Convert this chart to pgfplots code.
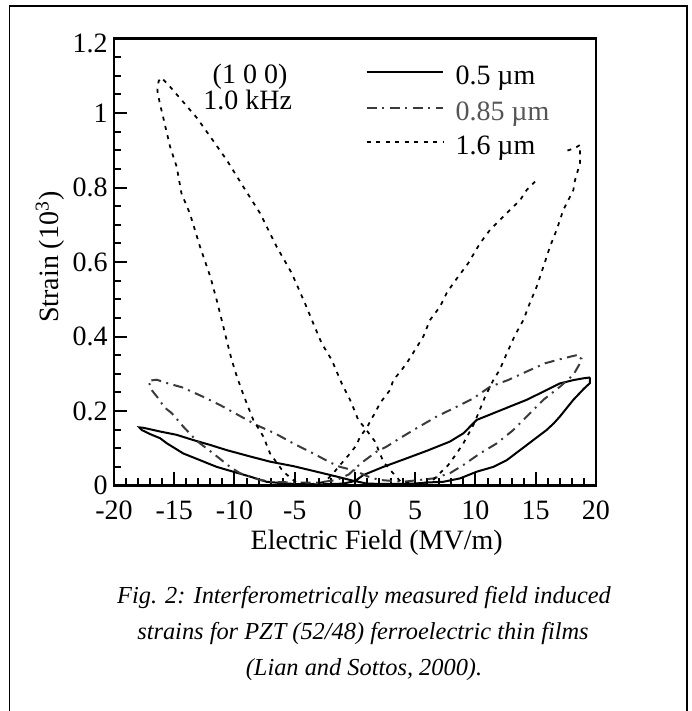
\documentclass[border=0pt]{standalone}
\usepackage{fontspec}
\setmainfont{Liberation Serif}
\usepackage{pgfplots}
\pgfplotsset{compat=1.18}
\definecolor{dashdot}{HTML}{3A3A3A}
\definecolor{labgray}{HTML}{555555}
\begin{document}
\begin{tikzpicture}
% page frame: 1 px of the reference = 0.4pt
\path[use as bounding box] (0,0) rectangle (276.4pt,284.4pt);
\draw[line width=0.8pt] (3.8pt,-5pt) -- (3.8pt,282pt) -- (274.6pt,282pt) -- (274.6pt,-5pt);
\begin{axis}[
  at={(45.6pt,90.2pt)}, anchor=south west,
  scale only axis, width=192.8pt, height=178.8pt,
  xmin=-20, xmax=20, ymin=0, ymax=1.2,
  xtick={-20,-15,-10,-5,0,5,10,15,20},
  ytick={0,0.2,0.4,0.6,0.8,1,1.2},
  yticklabels={0,0.2,0.4,0.6,0.8,1,},
  extra y ticks={1.2},
  extra y tick style={yticklabel style={yshift=-2pt}},
  minor x tick num=4, minor y tick num=3,
  tick align=inside, tick pos=left,
  major tick length=5.4pt, minor tick length=3pt,
  tick style={line width=0.8pt, black},
  axis line style={line width=0.9pt},
  font=\fontsize{11.2}{13.4}\selectfont,
  /pgf/number format/assume math mode=true,
  xticklabel style={anchor=base, yshift=-13.6pt, inner sep=1pt},
  yticklabel style={inner xsep=2.4pt, inner ysep=1pt},
  clip=false,
]
% 0.5 um
\addplot[black, line width=0.8pt] coordinates {
(19.5,0.29) (19.0,0.288) (18.12,0.283) (17.0,0.274) (15.63,0.252) (14.25,0.23) (12.86,0.212)
(11.48,0.194) (10.1,0.176) (8.99,0.14) (7.88,0.118) (5.95,0.093) (4.29,0.073) (2.35,0.05)
(0.69,0.028) (0,0.012) (-1,0.005) (-3,0.003) (-5,0.004) (-5.95,0.006)
(-7.33,0.01) (-8.71,0.024) (-10.1,0.037) (-11.48,0.05) (-12.86,0.068) (-14.25,0.086)
(-15.6,0.113) (-16.18,0.127) (-17.0,0.138) (-17.7,0.149) (-17.9,0.156)
(-17.57,0.155) (-16.18,0.145) (-14.8,0.136) (-13.42,0.122) (-12.03,0.109) (-10.65,0.095)
(-8.71,0.078) (-7.05,0.064) (-5.12,0.052) (-3.18,0.037) (-1.52,0.024) (-0.3,0.014)
(1,0.005) (3,0.004) (5,0.005) (5.95,0.008)
(7.33,0.01) (8.71,0.019) (10.1,0.037) (11.48,0.05) (12.59,0.068) (13.7,0.095) (14.8,0.122)
(15.9,0.149) (16.5,0.167) (17.0,0.185) (18.12,0.23) (19.0,0.26) (19.5,0.275) (19.5,0.29)
};
% 0.85 um
\addplot[dashdot, line width=0.8pt, dash pattern=on 4pt off 2.2pt on 0.8pt off 2.2pt] coordinates {
(18.4,0.35) (17.0,0.339) (15.77,0.328) (14.25,0.306) (12.7,0.283) (11.2,0.265) (9.82,0.234)
(8.16,0.207) (6.77,0.185) (5.12,0.154) (3.73,0.127) (2.6,0.104) (1.8,0.091) (0.5,0.06)
(0,0.045) (-0.5,0.03) (-1.5,0.015) (-3,0.008) (-5,0.008) (-7,0.01)
(-7.88,0.015) (-9.54,0.033) (-10.37,0.05) (-11.76,0.086) (-13.14,0.12) (-14.25,0.158)
(-15.2,0.194) (-15.9,0.212) (-16.18,0.228) (-16.87,0.256) (-17.15,0.281) (-16.46,0.284)
(-15.5,0.274) (-14.3,0.263) (-12.59,0.238) (-11.2,0.216) (-9.68,0.189) (-8.16,0.162)
(-6.64,0.14) (-5.12,0.113) (-3.46,0.086) (-2.07,0.062) (-1.24,0.05) (0,0.04) (1,0.025)
(2,0.015) (4,0.01) (6.5,0.019)
(7.88,0.033) (8.99,0.055) (10.37,0.086) (11.76,0.113) (13.14,0.149) (14.25,0.185)
(15.63,0.23) (17.0,0.265) (18.12,0.297) (18.67,0.328) (18.8,0.34) (18.4,0.35)
};
% 1.6 um
\addplot[black, line width=0.7pt, dash pattern=on 1.6pt off 2.2pt] coordinates {
(14.94,0.816) (14.24,0.793) (13.7,0.766) (12.86,0.74) (12.03,0.713) (11.2,0.686) (10.37,0.65)
(9.4,0.597) (8.16,0.543) (7.6,0.516) (7.05,0.48) (6.22,0.444) (5.67,0.4) (5.1,0.37)
(4.42,0.335) (3.87,0.31) (3.18,0.283) (2.9,0.256) (2.07,0.221) (1.66,0.194) (1.38,0.18)
(0.97,0.154) (0.41,0.131) (0.14,0.109) (-0.41,0.086) (-1.24,0.055) (-1.8,0.033) (-2.5,0.01)
(-3.5,0.004) (-4.8,0.006)
(-5.95,0.037) (-7.05,0.086) (-7.6,0.131) (-8.44,0.176) (-8.99,0.221) (-9.4,0.256) (-9.8,0.292)
(-10.23,0.337) (-10.65,0.39) (-11.06,0.444) (-11.48,0.498) (-12.0,0.56) (-12.86,0.641)
(-13.7,0.73) (-14.4,0.784) (-14.8,0.856) (-15.35,0.91) (-15.9,0.986) (-16.2,1.026)
(-16.4,1.06) (-16.3,1.085) (-16.1,1.095)
(-15.6,1.08) (-14.4,1.035) (-13.1,0.986) (-12.0,0.936) (-10.65,0.874) (-9.27,0.802)
(-7.88,0.731) (-6.5,0.641) (-5.25,0.57) (-4.15,0.489) (-3.46,0.435) (-2.77,0.382)
(-1.93,0.337) (-1.1,0.274) (-0.41,0.23) (0,0.198) (0.27,0.176) (0.83,0.154) (1.66,0.118)
(2.07,0.086) (2.35,0.064) (3.05,0.037) (3.8,0.01) (5,0.005) (6,0.008)
(6.5,0.015) (7.05,0.033) (7.74,0.055) (8.43,0.086) (8.99,0.113) (9.82,0.162) (10.24,0.194)
(10.79,0.238) (11.48,0.283) (12.0,0.31) (12.6,0.355) (13.3,0.405) (13.97,0.444) (14.5,0.489)
(15.08,0.534) (15.63,0.587) (16.18,0.641) (16.73,0.686) (17.29,0.74) (17.84,0.775)
(18.12,0.793) (18.26,0.82) (18.67,0.865) (18.67,0.914) (18.2,0.905) (17.3,0.896)
};
% legend
\addplot[black, line width=0.8pt, forget plot] coordinates {(0.97,1.111) (7.33,1.111)};
\addplot[dashdot, line width=0.8pt, dash pattern=on 4pt off 2.2pt on 0.8pt off 2.2pt, forget plot] coordinates {(0.97,1.013) (7.33,1.013)};
\addplot[black, line width=0.7pt, dash pattern=on 1.6pt off 2.2pt, forget plot] coordinates {(0.97,0.922) (7.33,0.922)};
\node[anchor=base west, inner sep=0pt] at (axis cs:8.3,1.077) {0.5 µm};
\node[anchor=base west, inner sep=0pt, text=labgray] at (axis cs:8.3,0.979) {0.85 µm};
\node[anchor=base west, inner sep=0pt] at (axis cs:8.3,0.888) {1.6 µm};
\node at (axis cs:-8.71,1.097) {(1 0 0)};
\node at (axis cs:-8.9,1.035) {1.0 kHz};
\node[rotate=90] at (rel axis cs:-0.1328,0.511) {Strain (10\textsuperscript{3})};
\node at (rel axis cs:0.545,-0.129) {Electric Field (MV/m)};
\end{axis}
\begin{scope}[every node/.style={font=\fontsize{9.75}{11.7}\selectfont\itshape}]
\node at (145.6pt,45.4pt) {Fig. 2: Interferometrically measured field induced};
\node at (145.2pt,31pt) {strains for PZT (52/48) ferroelectric thin films};
\node at (145.6pt,16.6pt) {(Lian and Sottos, 2000).};
\end{scope}
\end{tikzpicture}
\end{document}
